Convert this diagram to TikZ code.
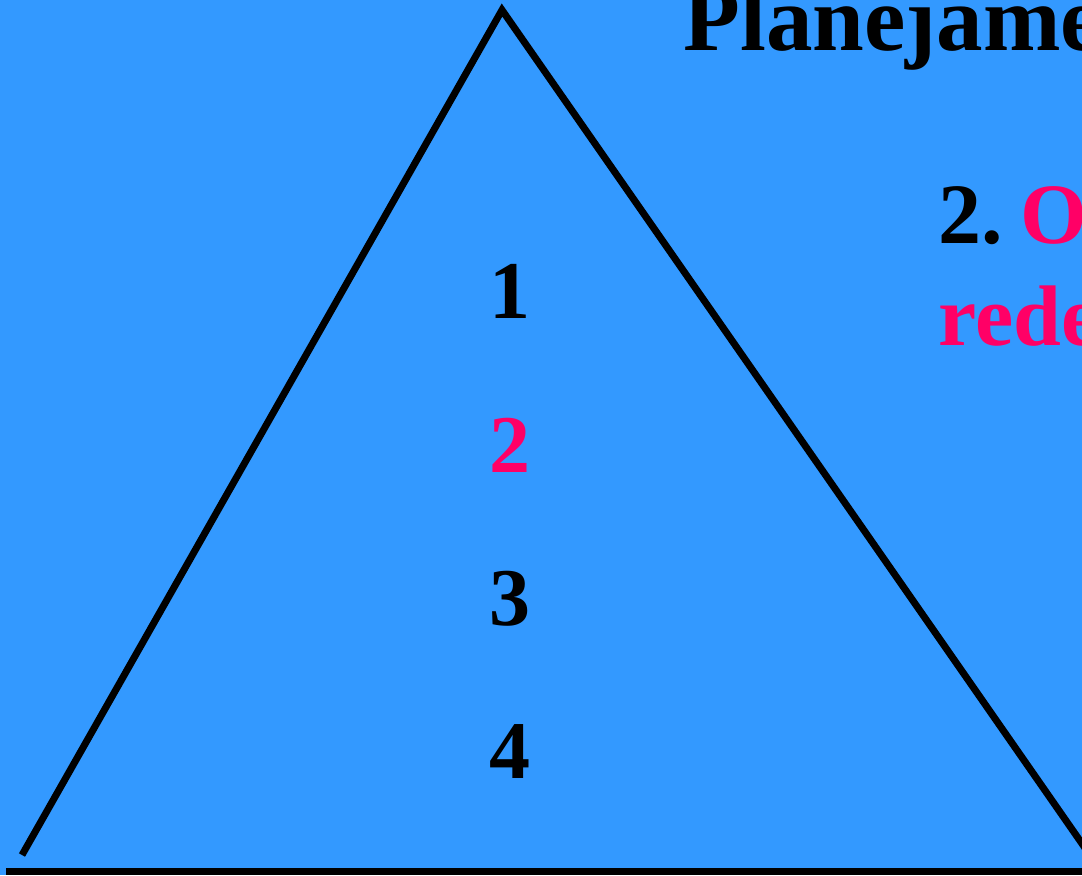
\documentclass[tikz,border=0pt]{standalone}
\usepackage{fontspec}
\setmainfont{Liberation Serif}
\definecolor{slideblue}{HTML}{3399FF}
\definecolor{slidepink}{HTML}{FF0066}
\tikzset{
  level/.style={font=\fontsize{41}{41}\selectfont\bfseries, anchor=base, inner sep=0pt},
  slidetext/.style={font=\fontsize{43}{43}\selectfont\bfseries, anchor=base west, inner sep=0pt},
}
\begin{document}
\begin{tikzpicture}[x=0.5pt,y=-0.5pt]
\def\W{1082};
\def\H{875};
\fill[slideblue] (0,0) rectangle (\W,\H);
\useasboundingbox (0,0) rectangle (\W,\H);
\clip (0,0) rectangle (\W,\H);
	% triangle
	\coordinate (apex) at (502,10);
	\coordinate (left) at (22,855);
	\coordinate (right) at (1092,858);
	\draw[line width=3.5pt] (left) -- (apex) -- (right);
	\coordinate (baseL) at (6,871.5);
	\coordinate (baseR) at (\W,871.5);
	\draw[line width=3.5pt] (baseL) -- (baseR);
	% levels
	\foreach \n/\y/\c in {1/318/black,2/472/slidepink,3/625/black,4/778/black}
		\node[level,text=\c] (lvl\n) at (510,\y) {\n};
	% title and item
	\node[slidetext,font=\fontsize{46.5}{46.5}\selectfont\bfseries] (title) at (683,50) {Planejame};
	\node[slidetext] (item) at (938,243) {2.\hspace{0.2em}\textcolor{slidepink}{O}};
	\node[slidetext,text=slidepink] (itemb) at (938,345) {rede};
\end{tikzpicture}
\end{document}
